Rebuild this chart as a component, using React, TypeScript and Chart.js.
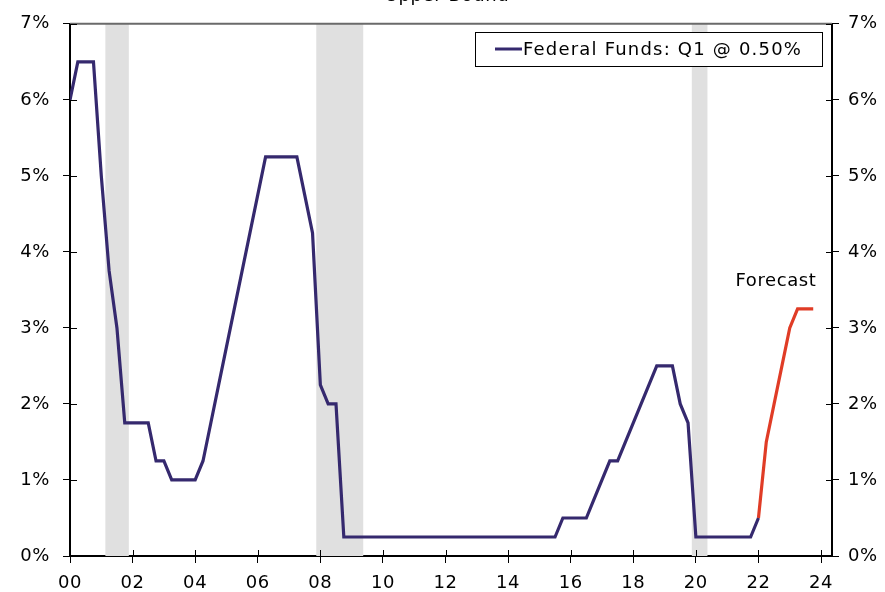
import React, { useEffect, useRef } from 'react';
import { Chart, registerables } from 'chart.js';

Chart.register(...registerables);

// ---- Data ----
const startYear = 2000; // first quarter (Q1 2000) plotted at x = 2000.00
const fedFunds = [
  6.0, 6.5, 6.5, 6.5, // 2000
  5.0, 3.75, 3.0, 1.75, // 2001
  1.75, 1.75, 1.75, 1.25, // 2002
  1.25, 1.0, 1.0, 1.0, // 2003
  1.0, 1.25, 1.75, 2.25, // 2004
  2.75, 3.25, 3.75, 4.25, // 2005
  4.75, 5.25, 5.25, 5.25, // 2006
  5.25, 5.25, 4.75, 4.25, // 2007
  2.25, 2.0, 2.0, 0.25, // 2008
  0.25, 0.25, 0.25, 0.25, // 2009
  0.25, 0.25, 0.25, 0.25, // 2010
  0.25, 0.25, 0.25, 0.25, // 2011
  0.25, 0.25, 0.25, 0.25, // 2012
  0.25, 0.25, 0.25, 0.25, // 2013
  0.25, 0.25, 0.25, 0.25, // 2014
  0.25, 0.25, 0.25, 0.5, // 2015
  0.5, 0.5, 0.5, 0.75, // 2016
  1.0, 1.25, 1.25, 1.5, // 2017
  1.75, 2.0, 2.25, 2.5, // 2018
  2.5, 2.5, 2.0, 1.75, // 2019
  0.25, 0.25, 0.25, 0.25, // 2020
  0.25, 0.25, 0.25, 0.25, // 2021
  0.5, // 2022 Q1
];
const forecastStart = 2022;
const forecast = [0.5, 1.5, 2.0, 2.5, 3.0, 3.25, 3.25, 3.25];
const recessions = [
  [2001.13, 2001.88],
  [2007.87, 2009.37],
  [2019.87, 2020.37],
];
const xTickYears = [2000, 2002, 2004, 2006, 2008, 2010, 2012, 2014, 2016, 2018, 2020, 2022, 2024];
const titleText = 'Upper Bound';
const legendText = 'Federal Funds: Q1 @ 0.50%';
const forecastText = 'Forecast';

const NAVY = '#35296e';
const RED = '#e03c26';
const FONT = 'DejaVu Sans, Verdana, sans-serif';

const toPoints = (start: number, vals: number[]) =>
  vals.map((v, i) => ({ x: start + i * 0.25, y: v }));

const overlayPlugin = {
  id: 'overlay',
  beforeDraw(chart: any) {
    const ctx = chart.ctx;
    try { ctx.letterSpacing = '0.6px'; } catch (e) {}
  },
  beforeDatasetsDraw(chart: any) {
    const { ctx, chartArea, scales } = chart;
    ctx.save();
    ctx.fillStyle = '#e0e0e0';
    recessions.forEach(([a, b]) => {
      const x1 = scales.x.getPixelForValue(a);
      const x2 = scales.x.getPixelForValue(b);
      ctx.fillRect(x1, chartArea.top, x2 - x1, chartArea.bottom - chartArea.top);
    });
    ctx.restore();
  },
  afterDraw(chart: any) {
    const { ctx, chartArea, scales } = chart;
    ctx.save();
    // top border
    ctx.strokeStyle = '#6a6a6a';
    ctx.lineWidth = 2;
    ctx.beginPath();
    ctx.moveTo(chartArea.left, chartArea.top);
    ctx.lineTo(chartArea.right, chartArea.top);
    ctx.stroke();
    // inner tick parts
    ctx.strokeStyle = '#000';
    ctx.lineWidth = 1;
    ctx.beginPath();
    scales.y.ticks.forEach((t: any) => {
      const y = Math.round(scales.y.getPixelForValue(t.value)) + 0.5;
      ctx.moveTo(chartArea.left, y);
      ctx.lineTo(chartArea.left + 7, y);
      ctx.moveTo(chartArea.right - 6, y);
      ctx.lineTo(chartArea.right, y);
    });
    scales.x.ticks.forEach((t: any) => {
      const x = Math.round(scales.x.getPixelForValue(t.value)) + 0.5;
      ctx.moveTo(x, chartArea.bottom - 6);
      ctx.lineTo(x, chartArea.bottom);
    });
    ctx.stroke();

    ctx.fillStyle = '#000';
    ctx.font = `18px ${FONT}`;
    // title (cut off at top)
    ctx.textAlign = 'center';
    ctx.textBaseline = 'alphabetic';
    ctx.fillText(titleText, 447, 1);
    // forecast label
    ctx.fillText(forecastText, 776, 286);

    // legend
    const lx = 475.5, ly = 32.5, lw = 347, lh = 34;
    ctx.fillStyle = '#fff';
    ctx.fillRect(lx, ly, lw, lh);
    ctx.strokeStyle = '#000';
    ctx.lineWidth = 1;
    ctx.strokeRect(lx, ly, lw, lh);
    ctx.strokeStyle = NAVY;
    ctx.lineWidth = 3;
    ctx.beginPath();
    ctx.moveTo(495, 49);
    ctx.lineTo(522, 49);
    ctx.stroke();
    ctx.fillStyle = '#000';
    ctx.textAlign = 'left';
    ctx.textBaseline = 'middle';
    try { ctx.letterSpacing = '1.2px'; } catch (e) {}
    ctx.fillText(legendText, 523, 50);
    ctx.restore();
  },
};

export default function App() {
  const ref = useRef<HTMLCanvasElement>(null);
  useEffect(() => {
    if (!ref.current) return;
    const tickFont = { family: FONT, size: 18 };
    const yAxis = (pos: 'left' | 'right', width: number, pad: number) => ({
      type: 'linear' as const,
      position: pos,
      min: 0,
      max: 7,
      afterFit: (s: any) => { s.width = width; },
      ticks: {
        stepSize: 1,
        color: '#000',
        font: tickFont,
        padding: pad,
        callback: (v: any) => `${v}%`,
      },
      grid: { drawOnChartArea: false, drawTicks: true, tickLength: 7, color: '#000', lineWidth: 1 },
      border: { display: true, color: '#000', width: 2 },
    });
    const chart = new Chart(ref.current, {
      type: 'line',
      data: {
        datasets: [
          {
            label: legendText,
            data: toPoints(startYear, fedFunds),
            borderColor: NAVY,
            borderWidth: 3.2,
            pointRadius: 0,
            borderJoinStyle: 'miter',
            tension: 0,
            yAxisID: 'y',
          },
          {
            label: forecastText,
            data: toPoints(forecastStart, forecast),
            borderColor: RED,
            borderWidth: 3.2,
            pointRadius: 0,
            borderJoinStyle: 'miter',
            tension: 0,
            yAxisID: 'y',
          },
        ],
      },
      options: {
        responsive: false,
        animation: false,
        layout: { padding: { top: 20, left: 0, right: 0, bottom: 0 } },
        plugins: { legend: { display: false }, tooltip: { enabled: false }, title: { display: false } },
        scales: {
          x: {
            type: 'linear',
            min: 2000,
            max: 2024.35,
            afterFit: (s: any) => { s.height = 36; },
            afterBuildTicks: (s: any) => { s.ticks = xTickYears.map((v) => ({ value: v })); },
            ticks: {
              color: '#000',
              font: tickFont,
              padding: 10,
              maxRotation: 0,
              autoSkip: false,
              callback: (v: any) => String(Number(v) % 100).padStart(2, '0'),
            },
            grid: { drawOnChartArea: false, drawTicks: true, tickLength: 7, color: '#000', lineWidth: 1 },
            border: { display: true, color: '#000', width: 2 },
          },
          y: yAxis('left', 70, 13),
          y2: yAxis('right', 53, 9),
        },
      },
      plugins: [overlayPlugin],
    } as any);
    return () => chart.destroy();
  }, []);
  return (
    <div style={{ position: 'absolute', left: 0, top: 0, width: 885, height: 592, background: '#fff' }}>
      <canvas ref={ref} width={885} height={592} style={{ display: 'block' }} />
    </div>
  );
}
